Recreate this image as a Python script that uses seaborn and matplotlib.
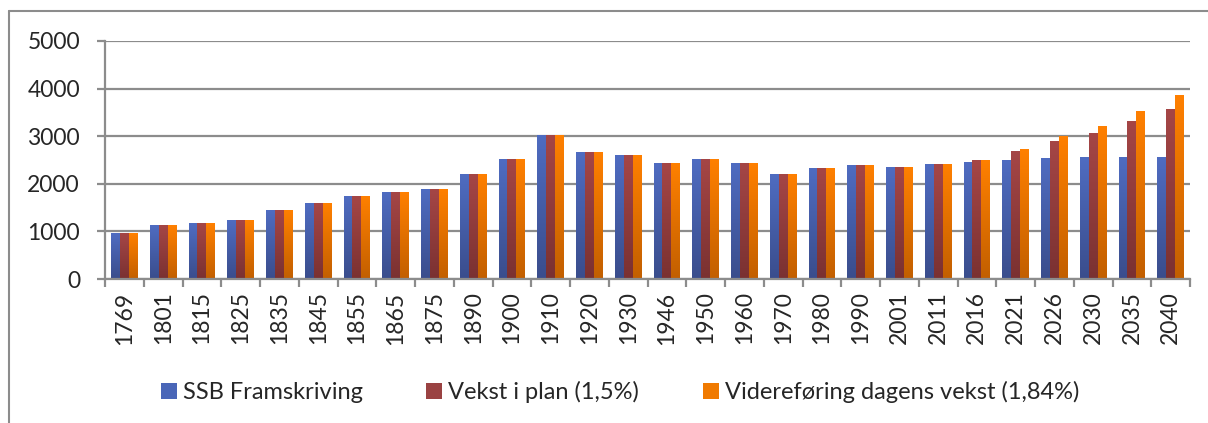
import numpy as np
import pandas as pd
import seaborn as sns
import matplotlib.pyplot as plt
from matplotlib.colors import LinearSegmentedColormap, to_hex
from matplotlib.lines import Line2D
from matplotlib.patches import Patch

# data
years = ["1769", "1801", "1815", "1825", "1835", "1845", "1855", "1865", "1875",
         "1890", "1900", "1910", "1920", "1930", "1946", "1950", "1960", "1970",
         "1980", "1990", "2001", "2011", "2016", "2021", "2026", "2030", "2035", "2040"]
ssb = [955, 1120, 1160, 1225, 1435, 1585, 1730, 1815, 1880, 2185, 2500, 3020, 2665, 2600,
       2435, 2500, 2435, 2185, 2330, 2390, 2350, 2410, 2455, 2495, 2540, 2560, 2560, 2560]
plan = [955, 1120, 1160, 1225, 1435, 1585, 1730, 1815, 1880, 2185, 2500, 3020, 2665, 2600,
        2435, 2500, 2435, 2185, 2330, 2390, 2350, 2410, 2495, 2685, 2895, 3060, 3310, 3565]
videre = [955, 1120, 1160, 1225, 1435, 1585, 1730, 1815, 1880, 2185, 2500, 3020, 2665, 2600,
          2435, 2500, 2435, 2185, 2330, 2390, 2350, 2410, 2495, 2725, 3000, 3210, 3525, 3860]
series = ["SSB Framskriving", "Vekst i plan (1,5%)", "Videreføring dagens vekst (1,84%)"]

df = pd.DataFrame({
    "År": years * 3,
    "Innbyggjarar": ssb + plan + videre,
    "Serie": [series[0]] * 28 + [series[1]] * 28 + [series[2]] * 28,
})

# Excel-like gradients: (bottom, top)
top_cols = ["#4f6cc1", "#a54646", "#ff8000"]
bot_cols = ["#3a4d8c", "#7a3131", "#c25f00"]
legend_cols = ["#4a66b8", "#9a4242", "#f07a00"]

sns.set_style("white")
plt.rcParams['font.family'] = ['Lato', 'DejaVu Sans']

fig, ax = plt.subplots(figsize=(12.08, 4.23), dpi=100)
fig.subplots_adjust(left=105/1208, right=1190/1208, bottom=1-279/423, top=1-41/423)

sns.barplot(data=df, x="År", y="Innbyggjarar", hue="Serie", palette=top_cols,
            width=0.69, saturation=1, linewidth=0, ax=ax, legend=False)

# replace flat bars with vertical gradients
grad = np.linspace(0, 1, 128).reshape(-1, 1)
cmaps = [LinearSegmentedColormap.from_list(f"g{i}", [bot_cols[i], top_cols[i]]) for i in range(3)]
top_hex = [c.lower() for c in top_cols]
for p in ax.patches:
    c = to_hex(p.get_facecolor()).lower()
    if c not in top_hex:
        continue
    k = top_hex.index(c)
    x0, w, h = p.get_x(), p.get_width(), p.get_height()
    ax.imshow(grad, cmap=cmaps[k], origin="lower", aspect="auto",
              extent=(x0, x0 + w, 0, h), zorder=2.5, interpolation="bilinear")
    p.set_visible(False)

ax.set_xlim(-0.5, len(years) - 0.5)
ax.set_ylim(0, 5000)
ax.set_yticks([0, 1000, 2000, 3000, 4000, 5000])
ax.grid(axis="y", color="#8c8c8c", linewidth=1.6)
ax.set_axisbelow(True)
ax.set_xlabel("")
ax.set_ylabel("")

for s in ["top", "right"]:
    ax.spines[s].set_visible(False)
for s in ["left", "bottom"]:
    ax.spines[s].set_color("#8c8c8c")
    ax.spines[s].set_linewidth(1.6)

ax.tick_params(axis="y", length=6, width=1.6, color="#8c8c8c", pad=12, labelsize=16.5,
               direction="out", left=True)
ax.tick_params(axis="x", which="major", length=0, pad=9, labelsize=16.5, rotation=90)
ax.set_xticks(np.arange(-0.5, len(years), 1.0), minor=True)
ax.tick_params(axis="x", which="minor", length=6, width=1.6, color="#8c8c8c",
               direction="out", bottom=True)

handles = [Patch(facecolor=c, edgecolor="none") for c in legend_cols]
fig.legend(handles, series, loc="center", bbox_to_anchor=(620/1208, 1-392/423), ncol=3,
           frameon=False, handlelength=0.68, handleheight=0.68, handletextpad=0.25,
           columnspacing=2.7, fontsize=17, borderpad=0)

# outer chart-area frame (top and left edges visible)
fig.add_artist(Line2D([9/1208, 1], [1-11/423, 1-11/423], transform=fig.transFigure,
                      color="#8c8c8c", linewidth=1.5))
fig.add_artist(Line2D([9/1208, 9/1208], [0, 1-11/423], transform=fig.transFigure,
                      color="#8c8c8c", linewidth=1.5))

fig.savefig("out.png", dpi=100)
